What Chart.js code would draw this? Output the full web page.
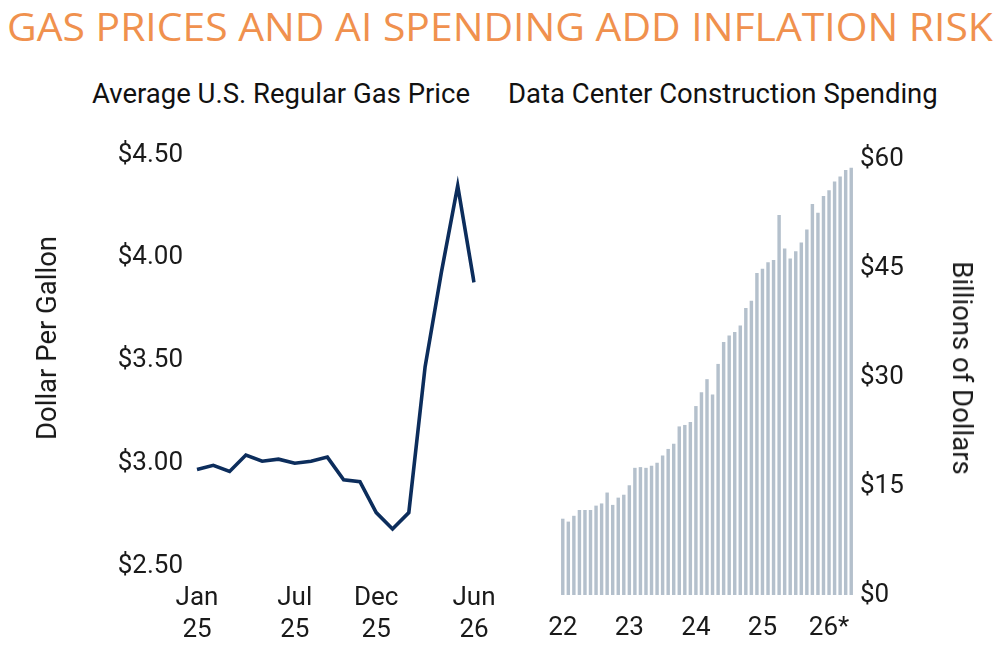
<!DOCTYPE html>
<html>
<head>
<meta charset="utf-8">
<script src="https://cdn.jsdelivr.net/npm/chart.js@4.4.0/dist/chart.umd.min.js"></script>
<style>
  html, body { margin: 0; padding: 0; background: #fff; }
  body { width: 1000px; height: 650px; position: relative; overflow: hidden; font-family: Roboto, sans-serif; }
  #title { position: absolute; left: 7px; top: 4px; font-family: "Open Sans", sans-serif; font-size: 38px; color: #F0914E; white-space: nowrap; transform-origin: 0 0; line-height: 44px; }
  .sub { position: absolute; top: 77px; font-size: 27.5px; color: #111; white-space: nowrap; line-height: 34px; }
  .axt { position: absolute; font-size: 27.5px; color: #1a1a1a; white-space: nowrap; line-height: 32px; }
  .box { position: absolute; top: 130px; width: 500px; height: 520px; }
</style>
</head>
<body>
<div id="title">GAS PRICES AND AI SPENDING ADD INFLATION RISK</div>
<div class="sub" style="left:92px">Average U.S. Regular Gas Price</div>
<div class="sub" style="left:508px">Data Center Construction Spending</div>
<div class="box" style="left:0"><canvas id="gasChart" width="500" height="520"></canvas></div>
<div class="box" style="left:500px"><canvas id="dcChart" width="500" height="520"></canvas></div>
<div class="axt" style="left:47px; top:338px; transform: translate(-50%, -50%) rotate(-90deg);">Dollar Per Gallon</div>
<div class="axt" style="left:962px; top:368px; transform: translate(-50%, -50%) rotate(90deg);">Billions of Dollars</div>
<script>
// gas price, monthly Jan 2025 - Jun 2026
const gasMonths = ['Jan','Feb','Mar','Apr','May','Jun','Jul','Aug','Sep','Oct','Nov','Dec','Jan','Feb','Mar','Apr','May','Jun'];
const gasYears = ['25','25','25','25','25','25','25','25','25','25','25','25','26','26','26','26','26','26'];
const gasShown = ['Jan','Jul','Dec','Jun'];
const gasShownIdx = [0, 6, 11, 17];
const gasPrice = [2.97, 2.99, 2.96, 3.04, 3.01, 3.02, 3.00, 3.01, 3.03, 2.92, 2.91, 2.76, 2.68, 2.76, 3.47, 3.93, 4.35, 3.88];
const gasTicks = [2.5, 3.0, 3.5, 4.0, 4.5];

// data center construction spending, monthly Jan 2022 - May 2026, $bn
const dcYearLabels = ['22', '23', '24', '25', '26*'];
const dcSpend = [
  10.5, 10.1, 10.9, 11.7, 11.7, 11.7, 12.3, 12.6, 14.1, 12.4, 13.4, 13.8,
  15.1, 17.5, 17.6, 17.5, 17.8, 18.2, 19.2, 20.1, 20.8, 23.2, 23.4, 23.8,
  26.0, 27.9, 29.7, 27.6, 31.8, 34.8, 35.7, 36.2, 37.1, 39.5, 40.5, 44.3,
  44.9, 45.8, 46.1, 52.3, 47.7, 46.3, 47.3, 48.5, 50.3, 53.8, 52.6, 54.9,
  55.7, 56.9, 57.6, 58.5, 58.8
];

const tickFont = { family: 'Roboto', size: 26, lineHeight: 32 / 26 };
const txt = '#1a1a1a';

// stretch headline to full width
const t = document.getElementById('title');
t.style.transform = 'scaleX(' + (986 / t.scrollWidth) + ')';

const gasLabels = gasMonths.map((m, i) => [m, gasYears[i]]);

// drop the label-overflow padding so the plot box sits where we want it
const noPad = s => { s.paddingLeft = 0; s.paddingRight = 0; s.paddingTop = 0; s.paddingBottom = 0; };

new Chart(document.getElementById('gasChart'), {
    type: 'line',
    data: {
        labels: gasLabels,
        datasets: [{
            data: gasPrice,
            borderColor: '#0C2D5C',
            borderWidth: 3.6,
            pointRadius: 0,
            tension: 0,
            fill: false
        }]
    },
    options: {
        responsive: false,
        animation: false,
        layout: { padding: { left: 0, right: 26, top: 25, bottom: 0 } },
        plugins: { legend: { display: false }, tooltip: { enabled: false } },
        scales: {
            x: {
                type: 'category',
                offset: false,
                grid: { display: false, drawTicks: false },
                border: { display: false },
                afterFit: s => { s.height = 84; noPad(s); },
                ticks: {
                    autoSkip: false,
                    maxRotation: 0,
                    padding: 16,
                    color: txt,
                    font: tickFont,
                    callback: (v, i) => gasShownIdx.includes(i) ? [gasShown[gasShownIdx.indexOf(i)], gasYears[i]] : ''
                }
            },
            y: {
                min: 2.5,
                max: 4.5,
                grid: { display: false, drawTicks: false },
                border: { display: false },
                afterFit: s => { s.width = 197; noPad(s); },
                afterBuildTicks: s => { s.ticks = gasTicks.map(v => ({ value: v })); },
                ticks: {
                    padding: 14,
                    color: txt,
                    font: tickFont,
                    callback: v => '$' + Number(v).toFixed(2)
                }
            }
        }
    }
});

const dcLabels = dcSpend.map((v, i) => (i % 12 === 0 ? dcYearLabels[i / 12] : ''));

new Chart(document.getElementById('dcChart'), {
    type: 'bar',
    data: {
        labels: dcLabels,
        datasets: [{
            data: dcSpend,
            backgroundColor: '#B4C0CC',
            borderWidth: 0,
            barPercentage: 0.62,
            categoryPercentage: 1.0
        }]
    },
    options: {
        responsive: false,
        animation: false,
        layout: { padding: { left: 60, right: 0, top: 29, bottom: 0 } },
        plugins: { legend: { display: false }, tooltip: { enabled: false } },
        scales: {
            x: {
                grid: { display: false, drawTicks: false },
                border: { display: false },
                afterFit: s => { s.height = 55; noPad(s); },
                ticks: {
                    autoSkip: false,
                    maxRotation: 0,
                    padding: 17,
                    color: txt,
                    font: tickFont
                }
            },
            y: {
                position: 'right',
                min: 0,
                max: 60,
                grid: { display: false, drawTicks: false },
                border: { display: false },
                afterFit: s => { s.width = 146; noPad(s); },
                ticks: {
                    stepSize: 15,
                    padding: 6,
                    color: txt,
                    font: tickFont,
                    callback: v => '$' + v
                }
            }
        }
    }
});
</script>
</body>
</html>
